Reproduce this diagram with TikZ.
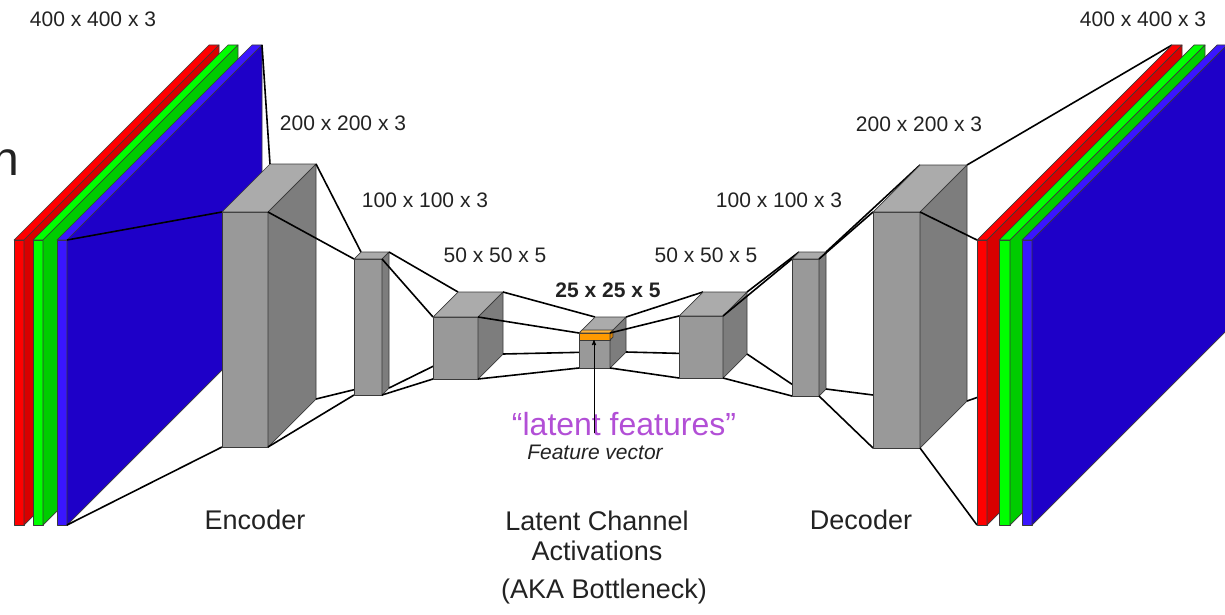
\documentclass[tikz,border=0pt]{standalone}
\usepackage{fontspec}
\setmainfont{Liberation Sans}
\usetikzlibrary{arrows}

\definecolor{txt}{HTML}{222222}
\definecolor{purp}{HTML}{B24FD6}
\definecolor{rfront}{HTML}{FF0000}
\definecolor{rside}{HTML}{D80000}
\definecolor{gfront}{HTML}{00FF00}
\definecolor{gside}{HTML}{00CC00}
\definecolor{bfront}{HTML}{3A16FF}
\definecolor{bside}{HTML}{1E00C8}
\definecolor{cfront}{HTML}{999999}
\definecolor{ctop}{HTML}{ABABAB}
\definecolor{cside}{HTML}{7D7D7D}
\definecolor{ofront}{HTML}{FF9A00}
\definecolor{otop}{HTML}{FFB43A}
\definecolor{oside}{HTML}{D98000}
\definecolor{edgegray}{HTML}{3A3A3A}

% corners of a box: name, x, y of front top left, width, height, depth
\newcommand{\layerbox}[6]{%
  \coordinate (#1-ftl) at (#2,#3);
  \coordinate (#1-ftr) at ({#2+#4},#3);
  \coordinate (#1-fbl) at (#2,{#3+#5});
  \coordinate (#1-fbr) at ({#2+#4},{#3+#5});
  \coordinate (#1-btl) at ({#2+#6},{#3-#6});
  \coordinate (#1-btr) at ({#2+#4+#6},{#3-#6});
  \coordinate (#1-bbl) at ({#2+#6},{#3+#5-#6});
  \coordinate (#1-bbr) at ({#2+#4+#6},{#3+#5-#6});
}
% front, top and side faces
\newcommand{\shadebox}[4]{%
  \filldraw[edge,fill=#2] (#1-ftl) -- (#1-ftr) -- (#1-fbr) -- (#1-fbl) -- cycle;
  \filldraw[edge,fill=#3] (#1-ftl) -- (#1-btl) -- (#1-btr) -- (#1-ftr) -- cycle;
  \filldraw[edge,fill=#4] (#1-ftr) -- (#1-btr) -- (#1-bbr) -- (#1-fbr) -- cycle;
}
% the four lines from one box to the next
\newcommand{\joinboxes}[2]{%
  \draw[link] (#1-btr) -- (#2-btl);
  \draw[link] (#1-ftr) -- (#2-ftl);
  \draw[link] (#1-bbr) -- (#2-bbl);
  \draw[link] (#1-fbr) -- (#2-fbl);
}

\begin{document}
\begin{tikzpicture}[x=1pt,y=-1pt,line join=round]
  \tikzstyle{every node}=[inner sep=0pt,text=txt]
  \tikzstyle{dims}=[font=\fontsize{21}{25}\selectfont]
  \tikzstyle{caption}=[font=\fontsize{27}{32}\selectfont]
  \tikzstyle{link}=[line width=1.6pt,black]
  \tikzstyle{edge}=[draw=edgegray,line width=0.7pt]

  \useasboundingbox (0,0) rectangle (1225,615);

  % input channels
  \layerbox{inr}{14}{240}{10}{285}{195}
  \layerbox{ing}{33}{240}{10}{285}{195}
  \layerbox{inb}{57}{240}{10}{285}{195}
  % encoder
  \layerbox{enc1}{222}{212}{46}{235}{48}
  \layerbox{enc2}{354}{259}{28}{136}{7}
  \layerbox{enc3}{433}{317}{45}{62}{25}
  % bottleneck
  \layerbox{mid}{579}{333}{31}{35}{16}
  \layerbox{bar}{579}{333}{31}{7}{3}
  % decoder
  \layerbox{dec1}{679}{316}{44}{62}{24}
  \layerbox{dec2}{792}{259}{27}{137}{7}
  \layerbox{dec3}{873}{212}{47}{236}{47}
  % output channels
  \layerbox{outr}{977}{240}{10}{285}{195}
  \layerbox{outg}{999}{240}{11}{285}{195}
  \layerbox{outb}{1022}{240}{10}{285}{195}

  \shadebox{inr}{rfront}{rfront}{rside}
  \shadebox{ing}{gfront}{gfront}{gside}
  \shadebox{inb}{bfront}{bfront}{bside}

  \joinboxes{inb}{enc1}
  \shadebox{enc1}{cfront}{ctop}{cside}
  \joinboxes{enc1}{enc2}
  \shadebox{enc2}{cfront}{ctop}{cside}
  \joinboxes{enc2}{enc3}
  \shadebox{enc3}{cfront}{ctop}{cside}
  \joinboxes{enc3}{mid}
  \shadebox{mid}{cfront}{ctop}{cside}
  \shadebox{bar}{ofront}{otop}{oside}
  \joinboxes{mid}{dec1}
  \shadebox{dec1}{cfront}{ctop}{cside}
  \joinboxes{dec1}{dec2}
  \shadebox{dec2}{cfront}{ctop}{cside}
  \joinboxes{dec2}{dec3}
  \shadebox{dec3}{cfront}{ctop}{cside}
  \joinboxes{dec3}{outr}

  \shadebox{outr}{rfront}{rfront}{rside}
  \shadebox{outg}{gfront}{gfront}{gside}
  \shadebox{outb}{bfront}{bfront}{bside}

  % sizes
  \node[dims] (s400a) at (93,19) {400 x 400 x 3};
  \node[dims] (s200a) at (343,123) {200 x 200 x 3};
  \node[dims] (s100a) at (425,200) {100 x 100 x 3};
  \node[dims] (s50a) at (495,255) {50 x 50 x 5};
  \node[dims,font=\fontsize{21}{25}\selectfont\bfseries] (s25) at (608,290) {25 x 25 x 5};
  \node[dims] (s50b) at (706,255) {50 x 50 x 5};
  \node[dims] (s100b) at (779,200) {100 x 100 x 3};
  \node[dims] (s200b) at (919,124) {200 x 200 x 3};
  \node[dims] (s400b) at (1143,19) {400 x 400 x 3};

  \node[anchor=base west,font=\fontsize{48}{56}\selectfont] (cut) at (-8,175) {n};

  % latent features
  \node[font=\fontsize{32}{38}\selectfont,text=purp] (latent) at (624,424) {“latent features”};
  \node[font=\fontsize{21}{25}\selectfont\itshape] (fvec) at (595,452) {Feature vector};
  \coordinate (foot) at (594,433);
  \coordinate (tip) at (594,340);
  \draw[->,>=stealth',line width=0.9pt] (foot) -- (tip);

  % captions
  \node[caption] (enc) at (255,520) {Encoder};
  \node[caption] (lat) at (597,521) {Latent Channel};
  \node[caption] (act) at (597,551) {Activations};
  \node[caption] (aka) at (604,592) {(AKA Bottleneck)};
  \node[caption] (dec) at (861,520) {Decoder};
\end{tikzpicture}
\end{document}
